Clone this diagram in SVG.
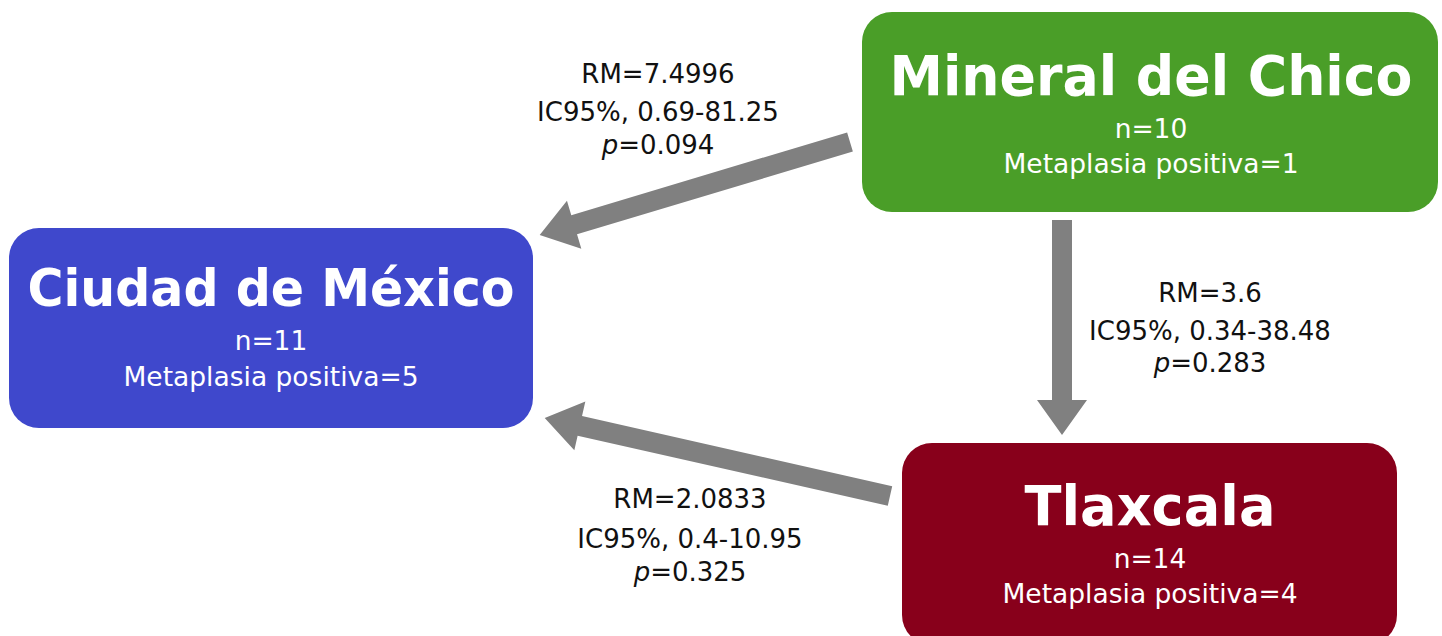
<svg xmlns="http://www.w3.org/2000/svg" width="1442" height="636" viewBox="0 0 1442 636">
<style>
.title{font-family:"DejaVu Sans","Verdana",sans-serif;font-weight:bold;font-size:55px;fill:#fff;text-anchor:middle}
.sub{font-family:"DejaVu Sans","Verdana",sans-serif;font-size:26.5px;fill:#fff;text-anchor:middle}
.lbl{font-family:"DejaVu Sans","Verdana",sans-serif;font-size:26px;fill:#111;text-anchor:middle}
.arrow{fill:#808080}
</style>
<rect width="1442" height="636" fill="#fff"/>
<g id="connectors">
  <g transform="translate(850,142) rotate(163.3)">
    <polygon class="arrow" points="0,-10 288,-10 288,-25 324,0 288,25 288,10 0,10"/>
  </g>
  <g transform="translate(1062,220) rotate(90)">
    <polygon class="arrow" points="0,-10 180,-10 180,-25 215,0 180,25 180,10 0,10"/>
  </g>
  <g transform="translate(890,496) rotate(192.74)">
    <polygon class="arrow" points="0,-10 318,-10 318,-25 354,0 318,25 318,10 0,10"/>
  </g>
  <g id="lbl1">
    <text class="lbl" x="658" y="83">RM=7.4996</text>
    <text class="lbl" x="658" y="121">IC95%, 0.69-81.25</text>
    <text class="lbl" x="658" y="154"><tspan font-style="italic">p</tspan>=0.094</text>
  </g>
  <g id="lbl2">
    <text class="lbl" x="1210" y="302">RM=3.6</text>
    <text class="lbl" x="1210" y="340">IC95%, 0.34-38.48</text>
    <text class="lbl" x="1210" y="372"><tspan font-style="italic">p</tspan>=0.283</text>
  </g>
  <g id="lbl3">
    <text class="lbl" x="690" y="508">RM=2.0833</text>
    <text class="lbl" x="690" y="548">IC95%, 0.4-10.95</text>
    <text class="lbl" x="690" y="581"><tspan font-style="italic">p</tspan>=0.325</text>
  </g>
</g>
<g id="mineral">
  <rect x="862" y="12" width="576" height="200" rx="30" fill="#4a9e28"/>
  <text class="title" x="1151" y="95" textLength="523" lengthAdjust="spacingAndGlyphs">Mineral del Chico</text>
  <text class="sub" x="1151" y="138">n=10</text>
  <text class="sub" x="1151" y="173">Metaplasia positiva=1</text>
</g>
<g id="cdmx">
  <rect x="9" y="228" width="524" height="200" rx="30" fill="#3f48cc"/>
  <text class="title" x="271" y="306" style="font-size:51px" textLength="487" lengthAdjust="spacingAndGlyphs">Ciudad de México</text>
  <text class="sub" x="271" y="350">n=11</text>
  <text class="sub" x="271" y="386">Metaplasia positiva=5</text>
</g>
<g id="tlaxcala">
  <rect x="902" y="443" width="495" height="202" rx="30" fill="#88001b"/>
  <text class="title" x="1150" y="525" textLength="251" lengthAdjust="spacingAndGlyphs">Tlaxcala</text>
  <text class="sub" x="1150" y="568">n=14</text>
  <text class="sub" x="1150" y="603">Metaplasia positiva=4</text>
</g>
</svg>
